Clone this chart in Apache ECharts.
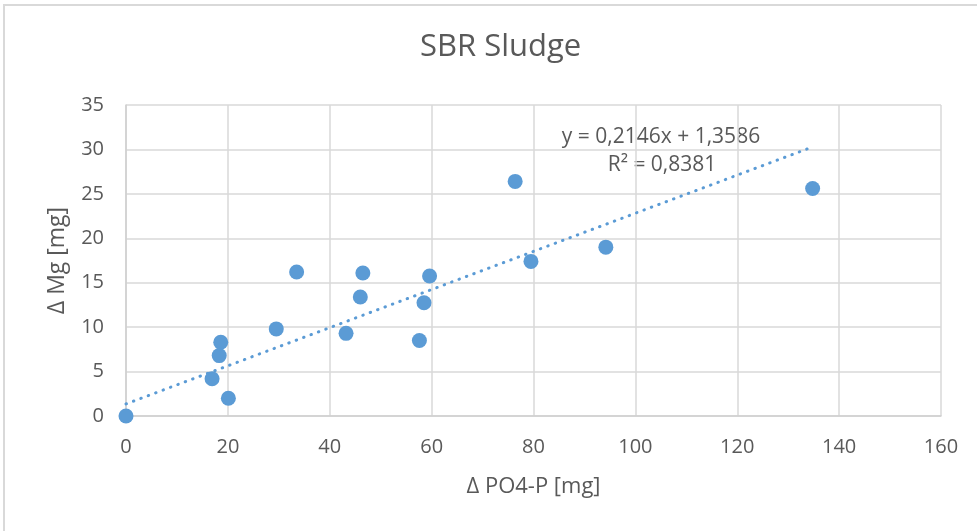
<!DOCTYPE html>
<html>
<head>
<meta charset="utf-8">
<script src="https://cdn.jsdelivr.net/npm/echarts@6/dist/echarts.min.js"></script>
<style>
    html, body { margin: 0; padding: 0; background: #fff; }
    #chart { width: 977px; height: 531px; }
</style>
</head>
<body>
<div id="chart"></div>
<script>
// values
const po4 = [0, 16.9, 18.3, 18.6, 20.1, 29.5, 33.5, 43.2, 46.0, 46.5, 57.6, 58.5, 59.6, 76.4, 79.5, 94.2, 134.8];
const mg = [0, 4.2, 6.8, 8.3, 2.0, 9.8, 16.2, 9.3, 13.4, 16.1, 8.5, 12.75, 15.75, 26.4, 17.4, 19.0, 25.6];

// linear trendline shown in the chart (y = 0,2146x + 1,3586)
const trendX = [0, 134.8];
const trendY = [1.3586, 30.287];
const trendText = ['y = 0,2146x + 1,3586', 'R² = 0,8381'];

const xTicks = { min: 0, max: 160, interval: 20 };
const yTicks = { min: 0, max: 35, interval: 5 };

const chart = echarts.init(document.getElementById('chart'));
const txt = '#595959';
const font = '"Open Sans", sans-serif';

let option = {
    animation: false,
    title: {
        text: 'SBR Sludge',
        left: 415,
        top: 27,
        textStyle: { fontFamily: font, fontSize: 31, fontWeight: 'normal', color: txt }
    },
    grid: { left: 126, right: 36, top: 105, bottom: 115 },
    xAxis: {
        type: 'value',
        min: xTicks.min, max: xTicks.max, interval: xTicks.interval,
        name: 'Δ PO4-P [mg]',
        nameLocation: 'middle',
        nameGap: 60,
        nameTextStyle: { fontFamily: font, fontSize: 22, color: txt },
        axisLine: { lineStyle: { color: '#cfcfcf', width: 1.5 } },
        axisTick: { show: false },
        axisLabel: { fontFamily: font, fontSize: 20, color: txt, margin: 21 },
        splitLine: { lineStyle: { color: '#d9d9d9', width: 1.5 } }
    },
    yAxis: {
        type: 'value',
        min: yTicks.min, max: yTicks.max, interval: yTicks.interval,
        name: 'Δ Mg [mg]',
        nameLocation: 'middle',
        nameGap: 57,
        nameTextStyle: { fontFamily: font, fontSize: 23, color: txt },
        axisLine: { show: true, lineStyle: { color: '#cfcfcf', width: 1.5 } },
        axisTick: { show: false },
        axisLabel: { fontFamily: font, fontSize: 20, color: txt, margin: 22 },
        splitLine: { lineStyle: { color: '#d9d9d9', width: 1.5 } }
    },
    series: [
        {
            type: 'line',
            data: trendX.map(function (x, i) { return [x, trendY[i]]; }),
            showSymbol: false,
            symbol: 'none',
            z: 3,
            lineStyle: { color: '#5b9bd5', width: 3, type: [0.5, 7.4], cap: 'round' }
        },
        {
            type: 'scatter',
            data: po4.map(function (x, i) { return [x, mg[i]]; }),
            symbolSize: 15,
            z: 2,
            itemStyle: { color: '#5b9bd5', opacity: 1 }
        }
    ],
    graphic: [
        {
            type: 'rect',
            shape: { x: 4, y: 5, width: 1100, height: 700 },
            style: { fill: 'none', stroke: '#d9d9d9', lineWidth: 2 },
            silent: true
        },
        {
            type: 'text',
            x: 661, y: 137,
            style: { text: trendText[0], font: '21px ' + font, fill: txt, align: 'center', verticalAlign: 'middle' }
        },
        {
            type: 'text',
            x: 662, y: 165,
            style: { text: trendText[1], font: '21px ' + font, fill: txt, align: 'center', verticalAlign: 'middle' }
        }
    ]
};
chart.setOption(option);
</script>
</body>
</html>
